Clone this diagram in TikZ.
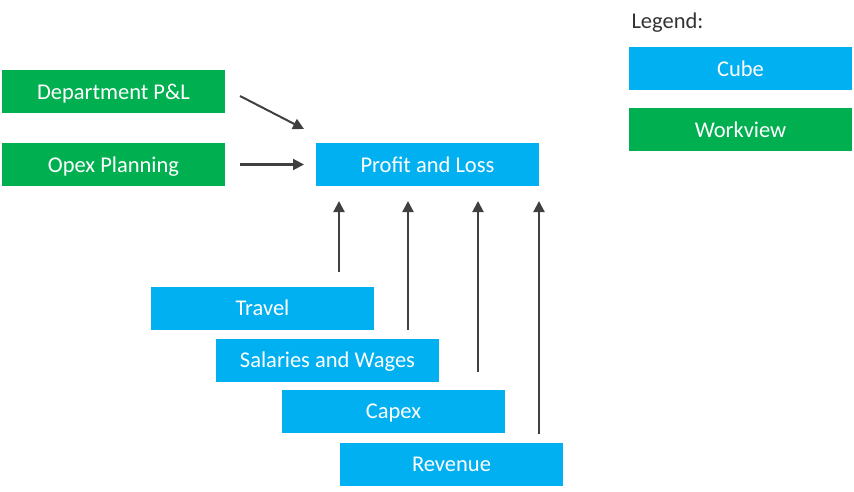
\documentclass[tikz,border=0pt]{standalone}
\usepackage{fontspec}
\setmainfont{Carlito}
\usetikzlibrary{arrows.meta}
\definecolor{cubeblue}{HTML}{00B0F0}
\definecolor{viewgreen}{HTML}{00B050}
\definecolor{arrowgray}{HTML}{404040}

\begin{document}
\begin{tikzpicture}[x=1pt,y=-1pt,>={Triangle[length=11pt,width=11pt]},
    cube/.style={fill=cubeblue,text=white,minimum width=223pt,minimum height=43pt,inner sep=0pt,text depth=0pt,font=\fontsize{22.5}{26}\selectfont},
    view/.style={cube,fill=viewgreen},
    flow/.style={->,draw=arrowgray,fill=arrowgray,line width=2pt}]
        \useasboundingbox(0,0)rectangle(854,492);
        \node[anchor=west,text=arrowgray!80!black,font=\fontsize{22.5}{26}\selectfont] (legend) at(628,23) {Legend:};
        \node[cube] (cubekey) at(740.5,69) {Cube};
        \node[view] (viewkey) at(740.5,129.5) {Workview};
        \node[view] (dept) at(113.5,91.5) {Department P\&L};
        \node[view] (opex) at(113.5,164.5) {Opex Planning};
        \node[cube] (pnl) at(427.5,164.5) {Profit and Loss};
        \node[cube] (travel) at(262.5,308) {Travel};
        \node[cube] (salaries) at(327.5,360) {Salaries and Wages};
        \node[cube] (capex) at(393.5,411) {Capex};
        \node[cube] (revenue) at(451.5,464) {Revenue};
        \coordinate (deptout) at(240,96);
        \coordinate (deptin) at(304,129);
        \coordinate (opexout) at(240,164.5);
        \coordinate (opexin) at(304,164.5);
        \draw[flow](deptout)--(deptin);
        \draw[flow](opexout)--(opexin);
        \foreach \src/\x/\y in {travel/339/272,salaries/408/330,capex/478/372,revenue/539/434}{
            \coordinate (\src out) at(\x,\y);
            \coordinate (\src in) at(\x,201);
            \draw[flow](\src out)--(\src in);
        }
    \end{tikzpicture}
\end{document}
